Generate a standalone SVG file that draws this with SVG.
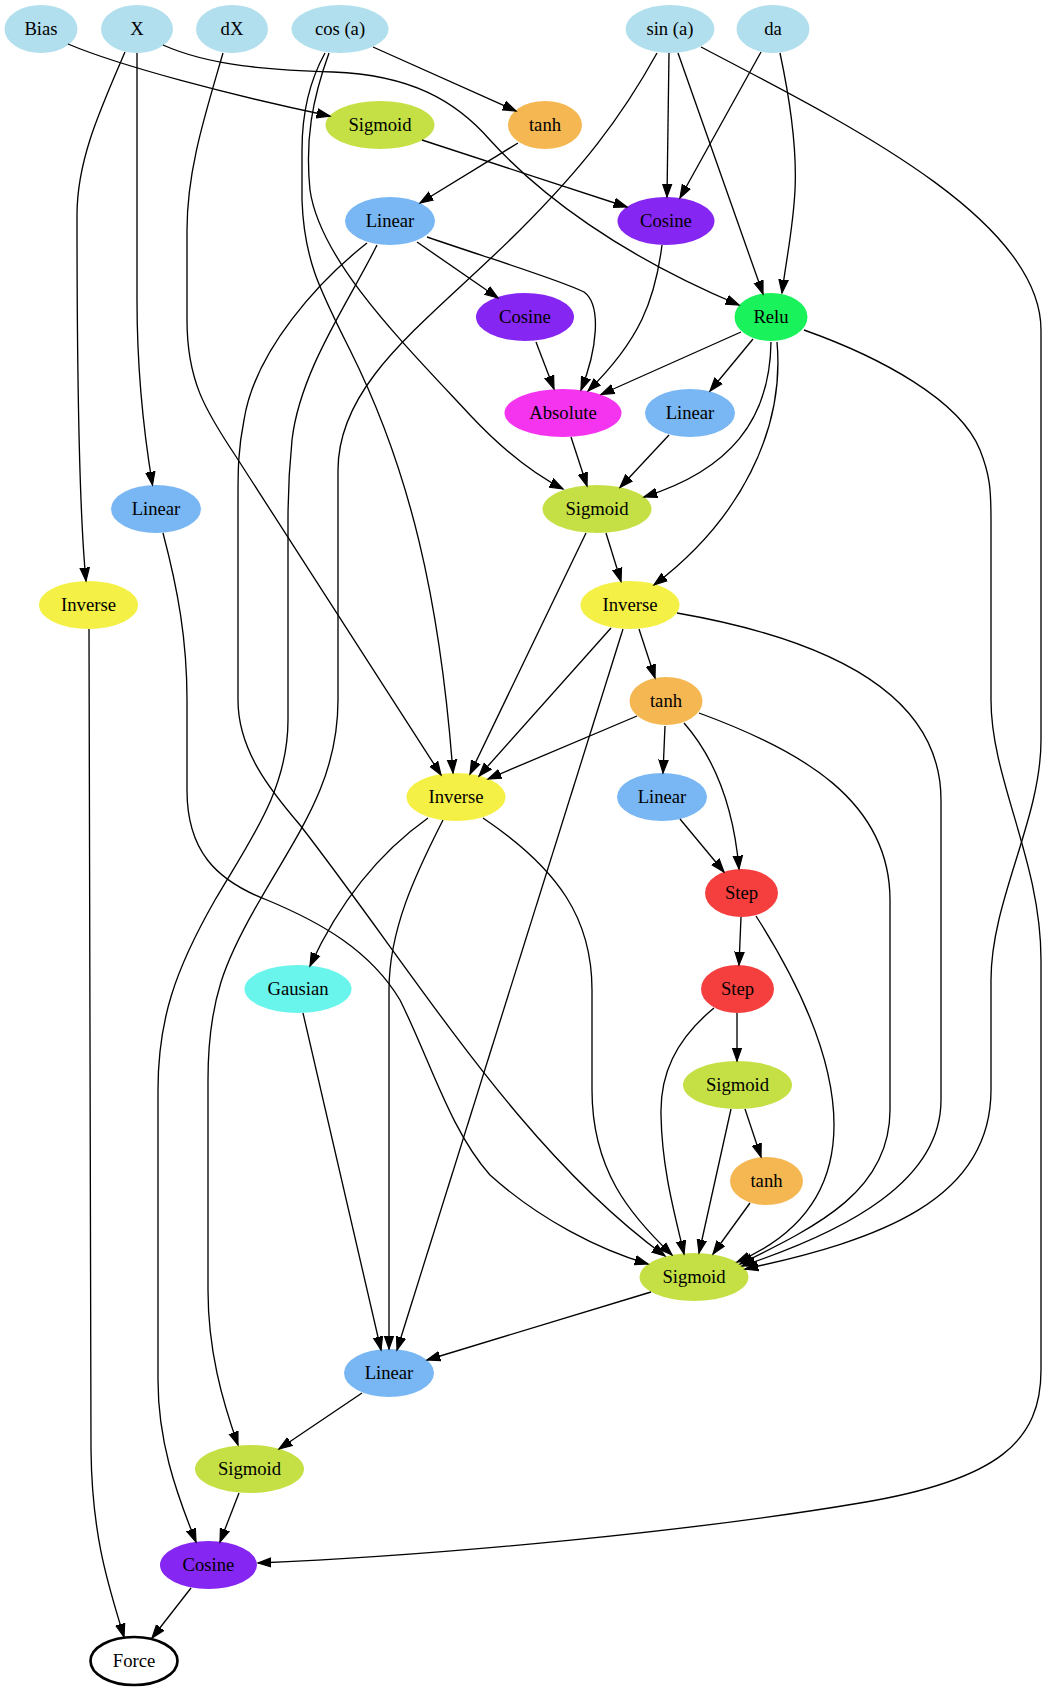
<svg xmlns="http://www.w3.org/2000/svg" width="1049" height="1691" viewBox="0 0 1049 1691">
<style>
  text { font-family: "Liberation Serif", "Times New Roman", serif; font-size: 18.67px; text-anchor: middle; fill: #000; }
  ellipse { stroke: none; }
  .input { fill: #b2dfee; }
  .sigmoid { fill: #c5e044; }
  .tanh { fill: #f4b752; }
  .linear { fill: #78b7f3; }
  .cosine { fill: #8526f2; }
  .relu { fill: #19f25b; }
  .absolute { fill: #f434ef; }
  .inverse { fill: #f4f046; }
  .step { fill: #f53f3f; }
  .gaussian { fill: #6af5ec; }
  .output { fill: #fff; stroke: #000; stroke-width: 2.67; }
  #edges path { fill: none; stroke: #000; stroke-width: 1.33; marker-end: url(#arrow); }
</style>
<defs>
  <marker id="arrow" markerUnits="userSpaceOnUse" viewBox="0 -6 15 12" markerWidth="15" markerHeight="12" refX="13.3" refY="0" orient="auto">
    <path d="M0,-4.67 L13.33,0 L0,4.67 z" fill="#000" stroke="#000" stroke-width="1.2"/>
  </marker>
</defs>
<rect width="1049" height="1691" fill="#fff"/>

<!-- inputs -->
<g id="n_bias"><ellipse class="input" cx="41" cy="29" rx="36.5" ry="24"/><text x="41" y="34.5">Bias</text></g>
<g id="n_x"><ellipse class="input" cx="137" cy="29" rx="36" ry="24"/><text x="137" y="34.5">X</text></g>
<g id="n_dx"><ellipse class="input" cx="232" cy="29" rx="36" ry="24"/><text x="232" y="34.5">dX</text></g>
<g id="n_cos_a"><ellipse class="input" cx="340" cy="29" rx="48.5" ry="24"/><text x="340" y="34.5">cos (a)</text></g>
<g id="n_sin_a"><ellipse class="input" cx="670" cy="29" rx="44.5" ry="24"/><text x="670" y="34.5">sin (a)</text></g>
<g id="n_da"><ellipse class="input" cx="773" cy="29" rx="36.5" ry="24"/><text x="773" y="34.5">da</text></g>

<!-- hidden layers -->
<g id="n_sigmoid1"><ellipse class="sigmoid" cx="380" cy="125" rx="54.5" ry="24"/><text x="380" y="130.5">Sigmoid</text></g>
<g id="n_tanh1"><ellipse class="tanh" cx="545" cy="125" rx="37" ry="24"/><text x="545" y="130.5">tanh</text></g>
<g id="n_linear2"><ellipse class="linear" cx="390" cy="221" rx="45" ry="24"/><text x="390" y="226.5">Linear</text></g>
<g id="n_cosine2"><ellipse class="cosine" cx="666" cy="221" rx="48.5" ry="24"/><text x="666" y="226.5">Cosine</text></g>
<g id="n_cosine3"><ellipse class="cosine" cx="525" cy="317" rx="49" ry="24"/><text x="525" y="322.5">Cosine</text></g>
<g id="n_relu"><ellipse class="relu" cx="771" cy="317" rx="36.5" ry="24"/><text x="771" y="322.5">Relu</text></g>
<g id="n_absolute"><ellipse class="absolute" cx="563" cy="413" rx="58.5" ry="24"/><text x="563" y="418.5">Absolute</text></g>
<g id="n_linear4"><ellipse class="linear" cx="690" cy="413" rx="45" ry="24"/><text x="690" y="418.5">Linear</text></g>
<g id="n_linear5"><ellipse class="linear" cx="156" cy="509" rx="45" ry="24"/><text x="156" y="514.5">Linear</text></g>
<g id="n_sigmoid5"><ellipse class="sigmoid" cx="597" cy="509" rx="54.5" ry="24"/><text x="597" y="514.5">Sigmoid</text></g>
<g id="n_inverse6a"><ellipse class="inverse" cx="88.5" cy="605" rx="49.5" ry="24"/><text x="88.5" y="610.5">Inverse</text></g>
<g id="n_inverse6"><ellipse class="inverse" cx="630" cy="605" rx="49.5" ry="24"/><text x="630" y="610.5">Inverse</text></g>
<g id="n_tanh7"><ellipse class="tanh" cx="666" cy="701" rx="36.5" ry="24"/><text x="666" y="706.5">tanh</text></g>
<g id="n_inverse8"><ellipse class="inverse" cx="456" cy="797" rx="49.5" ry="24"/><text x="456" y="802.5">Inverse</text></g>
<g id="n_linear8"><ellipse class="linear" cx="662" cy="797" rx="45" ry="24"/><text x="662" y="802.5">Linear</text></g>
<g id="n_step9"><ellipse class="step" cx="741.5" cy="893" rx="36.5" ry="24"/><text x="741.5" y="898.5">Step</text></g>
<g id="n_gausian"><ellipse class="gaussian" cx="298" cy="989" rx="53.5" ry="24"/><text x="298" y="994.5">Gausian</text></g>
<g id="n_step10"><ellipse class="step" cx="737.5" cy="989" rx="36.5" ry="24"/><text x="737.5" y="994.5">Step</text></g>
<g id="n_sigmoid11"><ellipse class="sigmoid" cx="737.5" cy="1085" rx="54.5" ry="24"/><text x="737.5" y="1090.5">Sigmoid</text></g>
<g id="n_tanh12"><ellipse class="tanh" cx="766.5" cy="1181" rx="36.5" ry="24"/><text x="766.5" y="1186.5">tanh</text></g>
<g id="n_sigmoid13"><ellipse class="sigmoid" cx="694" cy="1277" rx="54.5" ry="24"/><text x="694" y="1282.5">Sigmoid</text></g>
<g id="n_linear14"><ellipse class="linear" cx="389" cy="1373" rx="45" ry="24"/><text x="389" y="1378.5">Linear</text></g>
<g id="n_sigmoid15"><ellipse class="sigmoid" cx="249.5" cy="1469" rx="54.5" ry="24"/><text x="249.5" y="1474.5">Sigmoid</text></g>
<g id="n_cosine16"><ellipse class="cosine" cx="208.5" cy="1565" rx="48.5" ry="24"/><text x="208.5" y="1570.5">Cosine</text></g>

<!-- output -->
<g id="n_force"><ellipse class="output" cx="134" cy="1661" rx="43.5" ry="24"/><text x="134" y="1666.5">Force</text></g>

<g id="edges">
  <path d="M68,44 C120,66 230,95 330,116"/>
  <path d="M163,45 C210,66 270,70 333,72 C410,75 455,100 490,140 C540,195 620,255 739,305"/>
  <path d="M137,53 L137,300 C137,380 145,440 152.5,485"/>
  <path d="M125,52 C100,110 77,160 77,215 C77,400 80,520 86,581"/>
  <path d="M223,53 C205,115 187,170 187,230 L187,320 C187,380 205,410 235,455 L441,775"/>
  <path d="M373,47 L516,111"/>
  <path d="M325,53 C310,80 302,110 302,150 L302,200 C304,260 320,290 350,350 C410,470 440,600 453,773"/>
  <path d="M329,53 C312,100 305,140 310,190 C320,260 400,340 470,415 C500,447 530,472 563,489"/>
  <path d="M669,53 L667,197"/>
  <path d="M678,53 L763,294"/>
  <path d="M657,53 C620,120 580,170 520,230 C430,320 338,380 338,470 L338,700 C338,780 300,830 260,900 C225,960 208,1000 208,1080 L208,1290 C208,1350 222,1400 238,1445"/>
  <path d="M701,47 C850,125 1041,220 1041,330 L1041,740 C1041,820 991,900 991,980 L991,1090 C991,1200 880,1240 745,1269"/>
  <path d="M761,52 L680,198"/>
  <path d="M780,53 C790,100 797,150 795,190 C793,230 786,260 782,293"/>
  <path d="M422,140 L627,207"/>
  <path d="M518,143 L420,203"/>
  <path d="M417,242 L498,298"/>
  <path d="M427,237 C500,262 560,280 584,292 C602,305 597,350 581,390"/>
  <path d="M662,245 C655,300 640,340 588,391"/>
  <path d="M536,342 L554,389"/>
  <path d="M741,332 L601,394.5"/>
  <path d="M753,339 L710,391"/>
  <path d="M804,330 C880,357 960,400 980,450 C990,475 991,490 991,520 L991,700 C991,780 1041,860 1041,960 L1041,1370 C1041,1440 1000,1480 860,1503 C700,1530 450,1555 258,1563"/>
  <path d="M771,342 C770,420 730,470 644,497"/>
  <path d="M777,342 C785,430 740,520 654,585"/>
  <path d="M571,437 L587,486"/>
  <path d="M669,435 L620,487.5"/>
  <path d="M606,533 L621,581.5"/>
  <path d="M586,533 L470,774"/>
  <path d="M639,629 L655,678"/>
  <path d="M611,628 L479,776"/>
  <path d="M623,629 L397,1350"/>
  <path d="M677,613 C820,638 941,690 941,800 L941,1100 C941,1180 850,1230 742,1266"/>
  <path d="M637,716 L488,779"/>
  <path d="M665,726 L663,773"/>
  <path d="M684,723 C712,755 733,800 739,869"/>
  <path d="M699,713 C800,750 890,800 890,900 L890,1110 C890,1190 820,1225 740,1264"/>
  <path d="M680,819 L724,872"/>
  <path d="M428,818 C390,845 345,890 310,966"/>
  <path d="M443,820 C415,875 389,930 389,990 L389,1349"/>
  <path d="M483,818 C560,870 592,920 592,990 L592,1090 C592,1170 630,1215 672,1255"/>
  <path d="M741,917 L739,965"/>
  <path d="M756,916 C800,985 834,1060 834,1125 C834,1190 800,1235 737,1262"/>
  <path d="M737,1013 L737,1061"/>
  <path d="M714,1008 C675,1040 660,1075 661,1115 C662,1170 675,1215 684,1254"/>
  <path d="M745,1109 L761,1157"/>
  <path d="M731,1109 L699,1253"/>
  <path d="M750,1203 L713,1254"/>
  <path d="M163,533 C178,590 187,640 187,700 L187,790 C187,850 215,880 267,900 C320,922 370,950 400,1000 C430,1060 450,1130 490,1175 C540,1220 600,1250 648,1264"/>
  <path d="M367,243 C320,280 255,350 244,420 C238,450 238,470 238,500 L238,700 C238,750 270,790 300,825 C420,980 520,1150 665,1256"/>
  <path d="M377,245 C350,300 300,370 292,440 C289,470 288,490 288,520 L288,720 C288,790 250,840 215,900 C175,970 158,1020 158,1090 L158,1380 C158,1440 175,1490 196,1542"/>
  <path d="M303,1013 L381,1350"/>
  <path d="M651,1292 L427,1360"/>
  <path d="M362,1393 L279,1449"/>
  <path d="M239,1493 L220,1542"/>
  <path d="M191,1588 L152,1638"/>
  <path d="M89,629 L91,1450 C92,1540 110,1590 124,1637"/>
</g>
</svg>
